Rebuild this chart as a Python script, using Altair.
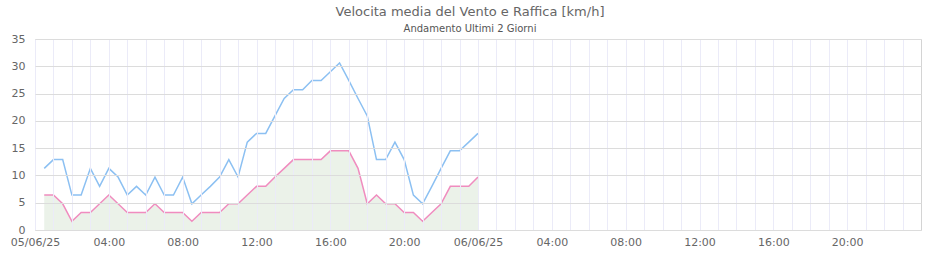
import altair as alt
import pandas as pd

# --- data -------------------------------------------------------------
start_time = "2025-06-05 00:30"
n_points = 48  # half-hourly readings up to 06/06 00:00

raffica = [11.3, 12.9, 12.9, 6.4, 6.4, 11.3, 8.0, 11.3, 9.7, 6.4,
           8.0, 6.4, 9.7, 6.4, 6.4, 9.7, 4.8, 6.4, 8.0, 9.7,
           12.9, 9.7, 16.1, 17.7, 17.7, 20.9, 24.1, 25.7, 25.7, 27.4,
           27.4, 29.0, 30.6, 27.4, 24.1, 20.9, 12.9, 12.9, 16.1, 12.9,
           6.4, 4.8, 8.0, 11.3, 14.5, 14.5, 16.1, 17.7]

media = [6.4, 6.4, 4.8, 1.6, 3.2, 3.2, 4.8, 6.4, 4.8, 3.2,
         3.2, 3.2, 4.8, 3.2, 3.2, 3.2, 1.6, 3.2, 3.2, 3.2,
         4.8, 4.8, 6.4, 8.0, 8.0, 9.7, 11.3, 12.9, 12.9, 12.9,
         12.9, 14.5, 14.5, 14.5, 11.3, 4.8, 6.4, 4.8, 4.8, 3.2,
         3.2, 1.6, 3.2, 4.8, 8.0, 8.0, 8.0, 9.7]

band_lo = [5, 15, 25]
band_hi = [10, 20, 30]

x_start = "2025-06-05T00:00:00"
x_end = "2025-06-07T00:00:00"
y_ticks = [0, 5, 10, 15, 20, 25, 30, 35]

times = pd.date_range(start_time, periods=n_points, freq="30min")
df = pd.DataFrame({"t": times, "raffica": raffica, "media": media})
bands = pd.DataFrame({"lo": band_lo, "hi": band_hi})

hour_ticks = [alt.DateTime(year=2025, month=6, date=d, hours=h)
              for d in (5, 6) for h in range(24)]

FONT = "DejaVu Sans"
LABEL = "#666666"

x_scale = alt.Scale(domain=[x_start, x_end])
y_scale = alt.Scale(domain=[0, 35], nice=False)

label_expr = ("hours(datum.value) % 4 == 0 ? "
              "(hours(datum.value) == 0 ? timeFormat(datum.value, '%d/%m/%y') "
              ": timeFormat(datum.value, '%H:%M')) : ''")

x_axis = alt.Axis(values=hour_ticks, labelExpr=label_expr, title=None,
                  grid=True, gridColor="#ebebf8", gridWidth=1,
                  domain=False, ticks=False, labelPadding=6,
                  labelFont=FONT, labelFontSize=11, labelColor=LABEL,
                  labelOverlap=False, labelFlush=False, zindex=1)
y_axis = alt.Axis(values=y_ticks, title=None, grid=True,
                  gridColor="#dcdcdc", domain=False, ticks=False,
                  labelPadding=10, labelFont=FONT, labelFontSize=11,
                  labelColor=LABEL, zindex=1)

band_layer = alt.Chart(bands).mark_rect(color="#f2f2f2").encode(
    x=alt.datum(x_start, type="temporal", scale=x_scale, axis=x_axis),
    x2=alt.datum(x_end),
    y=alt.Y("lo:Q", scale=y_scale, axis=y_axis),
    y2="hi:Q",
)

base = alt.Chart(df).encode(x=alt.X("t:T", scale=x_scale, axis=x_axis))

area = base.mark_area(color="#86b07e", opacity=0.17).encode(
    y=alt.Y("media:Q", scale=y_scale, axis=y_axis))
line_media = base.mark_line(color="#f08cbf", strokeWidth=1.5).encode(
    y=alt.Y("media:Q", scale=y_scale, axis=y_axis))
line_raffica = base.mark_line(color="#8cc0f2", strokeWidth=1.5).encode(
    y=alt.Y("raffica:Q", scale=y_scale, axis=y_axis))

chart = alt.layer(band_layer, area, line_media, line_raffica).properties(
    width=886, height=191,
    padding={"left": 35, "top": 39, "right": 19, "bottom": 30},
    autosize=alt.AutoSizeParams(type="none"),
    title=alt.TitleParams(
        text="Velocita media del Vento e Raffica [km/h]",
        subtitle="Andamento Ultimi 2 Giorni",
        anchor="middle", dx=-8, offset=-1,
        font=FONT, fontSize=13, fontWeight="normal", color="#666666",
        subtitleFont=FONT, subtitleFontSize=10, subtitleColor="#555555",
        subtitlePadding=5,
    ),
).configure_view(stroke="#d4d4d4", strokeWidth=1)

chart.save("out.html", embed_options={"renderer": "svg", "actions": False})
